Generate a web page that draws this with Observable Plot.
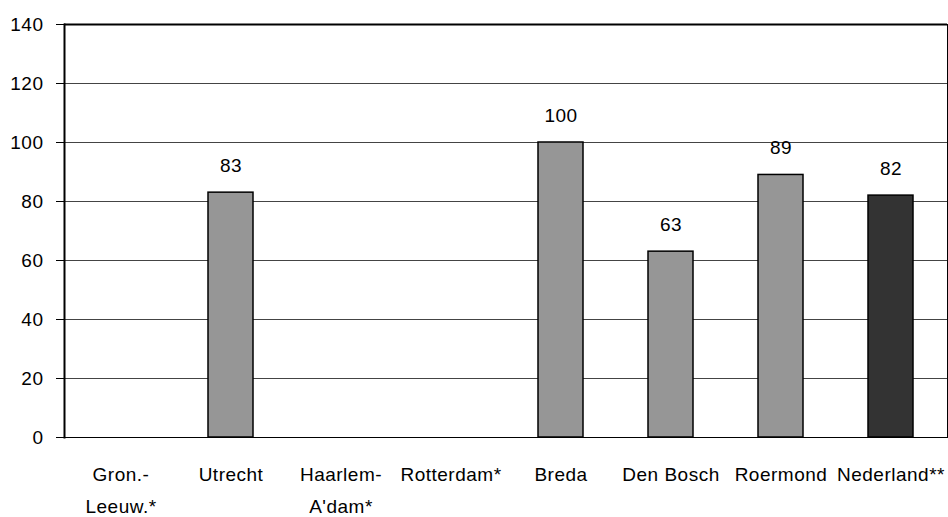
<!DOCTYPE html>
<html>
<head>
<meta charset="utf-8">
<script src="https://cdn.jsdelivr.net/npm/d3@7"></script>
<script src="https://cdn.jsdelivr.net/npm/@observablehq/plot@0.6"></script>
<style>
  html, body { margin: 0; padding: 0; background: #fff; }
  #chart svg { font-family: "Liberation Sans", Arial, sans-serif; }
</style>
</head>
<body>
<div id="chart"></div>
<script>
const categories = ["Gron.-\nLeeuw.*", "Utrecht", "Haarlem-\nA'dam*", "Rotterdam*", "Breda", "Den Bosch", "Roermond", "Nederland**"];
const values = [null, 83, null, null, 100, 63, 89, 82];
const highlight = [false, false, false, false, false, false, false, true];
const yTicks = [0, 20, 40, 60, 80, 100, 120, 140];

const data = categories.map((c, i) => ({cat: c, value: values[i], hl: highlight[i]}));
const bars = data.filter(d => d.value != null);

const chart = Plot.plot({
  width: 948,
  height: 517,
  marginLeft: 64,
  marginRight: 1,
  marginTop: 24,
  marginBottom: 80,
  style: {fontSize: "19px", letterSpacing: "0.5px", color: "#000", background: "#fff"},
  x: {domain: categories, paddingInner: 0.59, paddingOuter: 0.295, label: null},
  y: {domain: [0, 140], label: null},
  marks: [
    Plot.ruleY(yTicks.slice(1, -1), {stroke: "#444", strokeWidth: 1}),
    Plot.barY(bars, {x: "cat", y: "value", fill: d => d.hl ? "#333333" : "#969696", stroke: "#000", strokeWidth: 1.5}),
    Plot.text(bars, {x: "cat", y: "value", text: d => String(d.value), dy: -27, fontSize: 19, fill: "#000"}),
    Plot.ruleY([0], {stroke: "#222", strokeWidth: 1}),
    Plot.ruleY([140], {stroke: "#000", strokeWidth: 2}),
    Plot.frame({stroke: "#000", strokeWidth: 1}),
    Plot.frame({anchor: "left", stroke: "#000", strokeWidth: 2}),
    Plot.axisY({ticks: yTicks, tickSize: 8, tickPadding: 13, label: null, fontSize: 19, stroke: "#000"}),
    Plot.axisX({tickSize: 0, tickPadding: 21, label: null, fontSize: 19, lineHeight: 1.68})
  ]
});
document.getElementById("chart").append(chart);
</script>
</body>
</html>
